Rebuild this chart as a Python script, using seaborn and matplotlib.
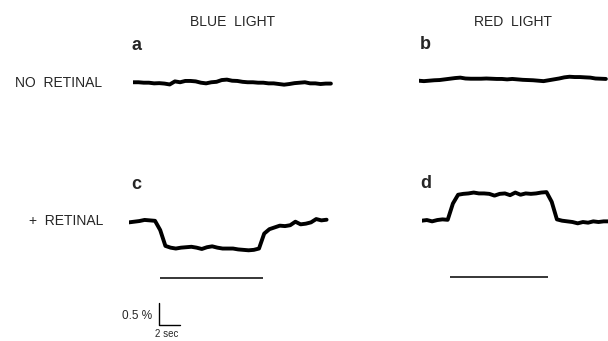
import numpy as np
import matplotlib.pyplot as plt
import seaborn as sns

# transmission traces, % change from the starting level, read every 0.5 s
dt = 0.5
trace_a = [0.01, 0.01, 0, 0, -0.015, -0.01, -0.02, -0.04, 0.03, 0.01, 0.04, 0.04, 0.03,
           0, -0.015, 0.01, 0.02, 0.06, 0.07, 0.045, 0.04, 0.02, 0.01, 0.01, 0, 0,
           -0.015, -0.015, -0.03, -0.045, -0.03, -0.01, 0, 0.01, -0.015, -0.015, -0.03,
           -0.02, -0.02]
trace_b = [0, -0.01, 0, 0.01, 0.015, 0.03, 0.045, 0.06, 0.07, 0.05, 0.045, 0.045, 0.045,
           0.05, 0.045, 0.04, 0.04, 0.03, 0.04, 0.03, 0.02, 0.015, 0.01, 0, -0.01, 0.01,
           0.03, 0.05, 0.076, 0.09, 0.083, 0.083, 0.076, 0.07, 0.05, 0.045, 0.04]
trace_c = [-0.015, 0, 0.015, 0.04, 0.03, 0.02, -0.19, -0.55, -0.59, -0.61, -0.59, -0.58,
           -0.57, -0.59, -0.62, -0.58, -0.56, -0.59, -0.61, -0.61, -0.61, -0.63, -0.64,
           -0.65, -0.64, -0.61, -0.27, -0.17, -0.13, -0.09, -0.1, -0.08, 0, -0.06,
           -0.045, -0.015, 0.06, 0.03, 0.045]
trace_d = [0, 0.015, -0.015, 0.015, 0.03, 0.02, 0.39, 0.59, 0.61, 0.62, 0.64, 0.62, 0.62,
           0.61, 0.57, 0.61, 0.62, 0.58, 0.64, 0.59, 0.62, 0.61, 0.62, 0.64, 0.65, 0.43,
           0.03, 0, -0.015, -0.03, -0.06, -0.03, -0.045, -0.015, -0.03, -0.015, -0.015]

# light on / off (s)
light_c = [2.98, 12.9]
light_d = [2.72, 12.17]
light_level = -1.27

scale_pct = 0.5
scale_sec = 2

W, H = 608, 341
PX_S, PX_PCT = 10.4, 44.0   # pixels per second, pixels per %
YLIM = (-1.5, 1.0)

sns.set_style("white")
plt.rcParams["font.family"] = ["Liberation Sans", "DejaVu Sans"]

fig = plt.figure(figsize=(W / 100, H / 100), dpi=100)


def fx(x):
    return x / W


def fy(y):
    return 1 - y / H


def panel(x0, y0, vals):
    # x0: left px of trace, y0: px row of the starting level
    height = (YLIM[1] - YLIM[0]) * PX_PCT
    ax = fig.add_axes([x0 / W, 1 - (y0 - YLIM[0] * PX_PCT) / H, 20 * PX_S / W, height / H])
    t = np.arange(len(vals)) * dt
    sns.lineplot(x=t, y=vals, ax=ax, color="black", lw=2.8, estimator=None)
    ax.lines[-1].set_solid_joinstyle("round")
    ax.set_xlim(0, 20)
    ax.set_ylim(*YLIM)
    ax.set_axis_off()
    return ax


ax_a = panel(133.3, 82.7, trace_a)
ax_b = panel(418.7, 80.7, trace_b)
ax_c = panel(129, 221.7, trace_c)
ax_d = panel(421.7, 220.7, trace_d)

ax_c.hlines(light_level, *light_c, color="black", lw=1.1)
ax_d.hlines(light_level, *light_d, color="black", lw=1.1)

# calibration bars
sx, sy = 2.91, -2.35
ax_c.plot([sx, sx, sx + scale_sec], [sy + scale_pct, sy, sy], color="black", lw=1,
          clip_on=False)

fig.text(fx(232.5), fy(26.5), "BLUE  LIGHT", ha="center", va="baseline", fontsize=10)
fig.text(fx(513.5), fy(26.5), "RED  LIGHT", ha="center", va="baseline", fontsize=10)
fig.text(fx(102), fy(87.3), "NO  RETINAL", ha="right", va="baseline", fontsize=10)
fig.text(fx(103), fy(225), "+  RETINAL", ha="right", va="baseline", fontsize=10)

letter_font = ["Liberation Sans Narrow", "Liberation Sans", "DejaVu Sans"]
for s, x, y in [("a", 131.5, 50), ("b", 420, 49.3), ("c", 131.5, 189.3), ("d", 420.5, 188.3)]:
    fig.text(fx(x), fy(y), s, ha="left", va="baseline", fontsize=13, fontweight="bold",
             family=letter_font)

fig.text(fx(151.7), fy(319.3), f"{scale_pct} %", ha="right", va="baseline", fontsize=8.5)
fig.text(fx(166.7), fy(336.7), f"{scale_sec} sec", ha="center", va="baseline", fontsize=7)

fig.savefig("out.png", dpi=100)
